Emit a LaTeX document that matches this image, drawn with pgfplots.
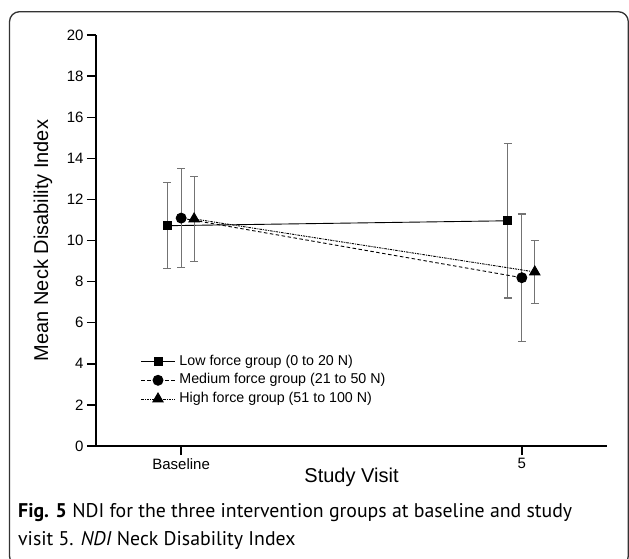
\documentclass[border=0pt]{standalone}
\usepackage{fontspec}
\setmainfont{Liberation Sans}
\newfontfamily\capfont{PT Sans}
\usepackage{pgfplots}
\pgfplotsset{compat=1.18}
\begin{document}
\begin{tikzpicture}
\useasboundingbox (0pt,0pt) rectangle (629pt,558pt);
\draw[black!80, line width=1.3pt, rounded corners=10pt] (9.5pt,-8pt) rectangle (628.3pt,546.3pt);
\begin{axis}[
 at={(96pt,112pt)}, anchor=south west, scale only axis, width=511pt, height=411pt,
 xmin=-0.25, xmax=1.25, ymin=0, ymax=20,
 axis x line*=bottom, axis y line*=left,
 axis line style={-, line width=1.5pt, black},
 xtick={0,1}, xticklabels={Baseline,5},
 ytick={0,2,...,20},
 tick align=outside, major tick length=9pt,
 tick style={line width=1.4pt, black},
 ticklabel style={font=\fontsize{15}{18}\selectfont},
 /pgf/number format/assume math mode=true,
 xlabel={Study Visit}, ylabel={Mean Neck Disability Index},
 xlabel style={at={(axis description cs:0.5,-0.09)}, anchor=base, font=\fontsize{20}{24}\selectfont, inner sep=0pt},
 ylabel style={at={(axis description cs:-0.104,0.5)}, anchor=center, font=\fontsize{20}{24}\selectfont, inner sep=0pt},
 legend style={draw=none, fill=none, at={(axis cs:-0.1198,4.5)}, anchor=north west,
   font=\fontsize{14.25}{17}\selectfont, inner sep=0pt, row sep=3pt,
   nodes={inner sep=1pt, text height=10.5pt, text depth=3.2pt},
   /tikz/every odd column/.append style={column sep=3pt}},
 legend cell align=left,
 legend image code/.code={\draw[mark repeat=2,mark phase=2,#1] plot coordinates {(0pt,0pt) (17pt,0pt) (34pt,0pt)};},
 error bars/y dir=both, error bars/y explicit,
 error bars/error bar style={solid, black!55, line width=1.1pt},
 error bars/error mark options={solid, rotate=90, mark size=4pt, black!55, line width=1.1pt},
]
\addplot[black, line width=0.9pt, mark=square*, mark size=4pt, mark options={solid}]
 coordinates {(-0.041,10.72) +- (0,2.1) (0.959,10.96) +- (0,3.76)};
\addlegendentry{Low force group (0 to 20 N)}
\addplot[black, line width=0.9pt, dash pattern=on 3.5pt off 2.5pt, mark=*, mark size=5pt, mark options={solid}]
 coordinates {(0,11.09) +- (0,2.4) (1,8.19) +- (0,3.1)};
\addlegendentry{Medium force group (21 to 50 N)}
\addplot[black, line width=0.9pt, dash pattern=on 2.5pt off 1pt on 1pt off 1pt, mark=triangle*, mark size=6pt, mark options={solid}]
 coordinates {(0.038,11.05) +- (0,2.05) (1.038,8.47) +- (0,1.55)};
\addlegendentry{High force group (51 to 100 N)}
\end{axis}
\node[anchor=base west, inner sep=0pt, font=\capfont\fontsize{19.8}{23}\selectfont] at (18pt,41pt) {\textbf{Fig. 5} NDI for the three intervention groups at baseline and study};
\node[anchor=base west, inner sep=0pt, font=\capfont\fontsize{19.8}{23}\selectfont] at (18pt,13pt) {visit 5. \textit{NDI} Neck Disability Index};
\end{tikzpicture}
\end{document}
